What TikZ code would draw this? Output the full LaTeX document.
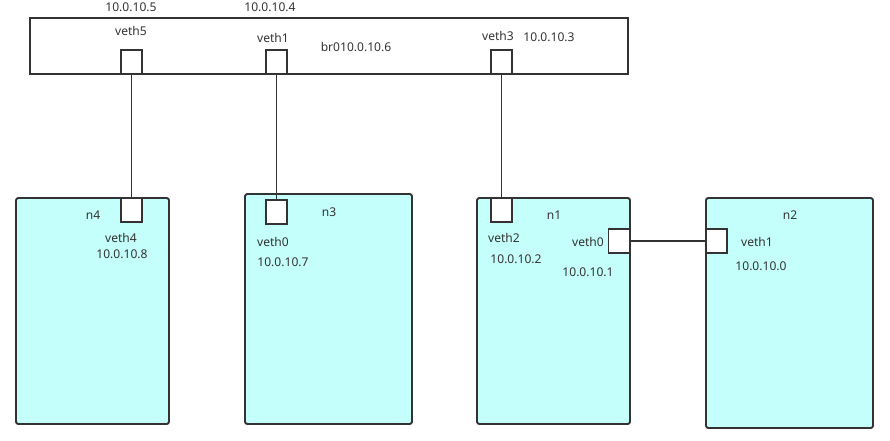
\documentclass[tikz,border=0pt]{standalone}
\usepackage{fontspec}
\setmainfont{Noto Sans}
\usepackage{tikz}

\definecolor{hostfill}{HTML}{C4FFFB}
\definecolor{edge}{HTML}{333333}

\tikzset{
  host/.style={draw=edge,fill=hostfill,line width=1.6pt,rounded corners=2pt},
  port/.style={draw=edge,fill=white,line width=1.6pt,minimum width=0.63cm,minimum height=0.72cm,inner sep=0pt},
  lbl/.style={inner sep=0pt,text=edge,font=\fontsize{10.3}{12}\selectfont},
  link/.style={draw=edge,line width=1.6pt}
}

\begin{document}
\begin{tikzpicture}[x=0.03cm,y=-0.03cm]
  \useasboundingbox (0,0) rectangle (890,440);

  % bridge
  \draw[draw=edge,line width=1.6pt] (30,18) rectangle (628,74);
  \node[port] (veth5) at (131.5,62) {};
  \node[port] (brveth1) at (276.5,62) {};
  \node[port] (veth3) at (501.5,62) {};
  \node[lbl] (ipfive) at (131,7) {10.0.10.5};
  \node[lbl] (ipfour) at (270,7) {10.0.10.4};
  \node[lbl] (lfive) at (131,31) {veth5};
  \node[lbl] (lbrone) at (273,38) {veth1};
  \node[lbl] (lbr) at (356,47) {br010.0.10.6};
  \node[lbl] (lthree) at (498,36) {veth3};
  \node[lbl] (ipthree) at (549,37) {10.0.10.3};

  % hosts
  \draw[host] (16,198) rectangle (169,424);
  \draw[host] (245,194) rectangle (412,424);
  \draw[host] (477,198) rectangle (630,424);
  \draw[host] (706,198) rectangle (873,428);

  % n4
  \node[port] (veth4) at (131.5,210) {};
  \node[lbl] (nfour) at (93,215) {n4};
  \node[lbl] (lfour) at (121,238) {veth4};
  \node[lbl] (ipeight) at (122,254) {10.0.10.8};
  % n3
  \node[port] (nthreeveth0) at (276.5,212) {};
  \node[lbl] (nthree) at (329,212) {n3};
  \node[lbl] (lnthree) at (273,242) {veth0};
  \node[lbl] (ipseven) at (283,262) {10.0.10.7};
  % n1
  \node[port] (veth2) at (501.5,210) {};
  \node[port] (noneveth0) at (619,241) {};
  \node[lbl] (none) at (554,215) {n1};
  \node[lbl] (ltwo) at (504,238) {veth2};
  \node[lbl] (iptwo) at (516,259) {10.0.10.2};
  \node[lbl] (lnone) at (588,242) {veth0};
  \node[lbl] (ipone) at (588,272) {10.0.10.1};
  % n2
  \node[port] (ntwoveth1) at (716.5,241) {};
  \node[lbl] (ntwo) at (790,215) {n2};
  \node[lbl] (lntwo) at (757,242) {veth1};
  \node[lbl] (ipzero) at (761,266) {10.0.10.0};

  % links
  \draw[link] (veth5) -- (veth4);
  \draw[link] (brveth1) -- (nthreeveth0);
  \draw[link] (veth3) -- (veth2);
  \draw[link] (noneveth0) -- (ntwoveth1);
\end{tikzpicture}
\end{document}
